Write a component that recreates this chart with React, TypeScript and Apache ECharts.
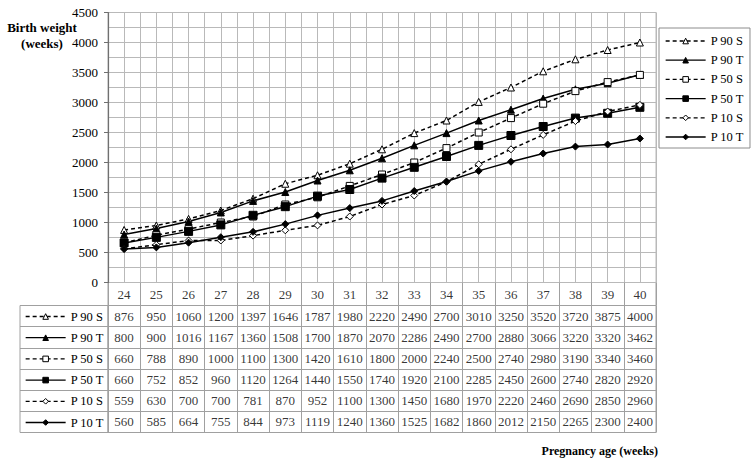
import React, { useEffect, useRef } from "react";
import * as echarts from "echarts";

const weeks = [24, 25, 26, 27, 28, 29, 30, 31, 32, 33, 34, 35, 36, 37, 38, 39, 40];
const seriesNames = ["P 90 S", "P 90 T", "P 50 S", "P 50 T", "P 10 S", "P 10 T"];
const p90S = [876, 950, 1060, 1200, 1397, 1646, 1787, 1980, 2220, 2490, 2700, 3010, 3250, 3520, 3720, 3875, 4000];
const p90T = [800, 900, 1016, 1167, 1360, 1508, 1700, 1870, 2070, 2286, 2490, 2700, 2880, 3066, 3220, 3320, 3462];
const p50S = [660, 788, 890, 1000, 1100, 1300, 1420, 1610, 1800, 2000, 2240, 2500, 2740, 2980, 3190, 3340, 3460];
const p50T = [660, 752, 852, 960, 1120, 1264, 1440, 1550, 1740, 1920, 2100, 2285, 2450, 2600, 2740, 2820, 2920];
const p10S = [559, 630, 700, 700, 781, 870, 952, 1100, 1300, 1450, 1680, 1970, 2220, 2460, 2690, 2850, 2960];
const p10T = [560, 585, 664, 755, 844, 973, 1119, 1240, 1360, 1525, 1682, 1860, 2012, 2150, 2265, 2300, 2400];
const allValues = [p90S, p90T, p50S, p50T, p10S, p10T];
const yTitleLines = ["Birth weight", "(weeks)"];
const xTitle = "Pregnancy age (weeks)";

const FONT = '"Liberation Serif", "Times New Roman", serif';
const GRID_COLOR = "#b9b9b9";
const TABLE_COLOR = "#a0a0a0";

const markers = [
  { dashed: true, symbol: "triangle", hollow: true, size: 7 },
  { dashed: false, symbol: "triangle", hollow: false, size: 7 },
  { dashed: true, symbol: "rect", hollow: true, size: 7 },
  { dashed: false, symbol: "rect", hollow: false, size: 8 },
  { dashed: true, symbol: "diamond", hollow: true, size: 7 },
  { dashed: false, symbol: "diamond", hollow: false, size: 7 },
];

export default function App() {
  const ref = useRef<HTMLDivElement>(null);

  useEffect(() => {
    if (!ref.current) return;
    const chart = echarts.init(ref.current, null, { renderer: "svg" });

    const lineSeries = seriesNames.map((name, k) => {
      const m = markers[k];
      return {
        type: "line",
        name,
        xAxisIndex: 0,
        yAxisIndex: 0,
        data: weeks.map((w, i) => [w, allValues[k][i]]),
        symbol: m.symbol,
        symbolSize: m.size,
        showAllSymbol: true,
        lineStyle: { color: "#000", width: 1.5, type: m.dashed ? [4, 3] : "solid" },
        itemStyle: { color: m.hollow ? "#fff" : "#000", borderColor: "#000", borderWidth: 1 },
        z: 3,
      };
    });

    const cellLabel = {
      show: true,
      position: "inside",
      color: "#000",
      fontFamily: FONT,
      fontSize: 13,
      fontWeight: "normal",
      formatter: (p: any) => String(p.value[2]),
    };

    const legendCommon = {
      orient: "vertical",
      data: seriesNames,
      selectedMode: false,
      itemWidth: 40,
      itemHeight: 7,
      itemStyle: { borderWidth: 1 },
      lineStyle: { width: 1.3 },
      textStyle: { fontFamily: FONT, fontSize: 12.5, fontWeight: "normal", color: "#000", lineHeight: 14 },
    };

    chart.setOption({
      animation: false,
      backgroundColor: "#fff",
      textStyle: { fontFamily: FONT, fontWeight: "normal" },
      grid: [
        { left: 108, right: 100, top: 12.5, height: 270, show: true, borderColor: GRID_COLOR, borderWidth: 1, containLabel: false },
        { left: 108, right: 100, top: 282.5, height: 23, show: true, borderColor: TABLE_COLOR, borderWidth: 1 },
        { left: 108, right: 100, top: 305.5, height: 127, show: true, borderColor: TABLE_COLOR, borderWidth: 1 },
        { left: 20, width: 88, top: 305.5, height: 127, show: true, borderColor: TABLE_COLOR, borderWidth: 1 },
      ],
      xAxis: [
        {
          type: "value",
          gridIndex: 0,
          min: 23.5,
          max: 40.5,
          interval: 0.5,
          axisLine: { show: false },
          axisTick: { show: false },
          axisLabel: { show: false },
          splitLine: { show: true, lineStyle: { color: GRID_COLOR, width: 1 } },
        },
        {
          type: "category",
          gridIndex: 1,
          data: weeks.map(String),
          axisLine: { show: false },
          axisTick: { show: false },
          axisLabel: { show: false },
          splitLine: { show: true, interval: 0, lineStyle: { color: TABLE_COLOR } },
        },
        {
          type: "category",
          gridIndex: 2,
          data: weeks.map(String),
          axisLine: { show: false },
          axisTick: { show: false },
          axisLabel: { show: false },
          splitLine: { show: true, interval: 0, lineStyle: { color: TABLE_COLOR } },
        },
        {
          type: "category",
          gridIndex: 3,
          data: ["key"],
          axisLine: { show: false },
          axisTick: { show: false },
          axisLabel: { show: false },
          splitLine: { show: false },
        },
      ],
      yAxis: [
        {
          type: "value",
          gridIndex: 0,
          min: 0,
          max: 4500,
          interval: 500,
          axisLine: { show: true, lineStyle: { color: "#707070", width: 1.2 } },
          axisTick: { show: true, length: 4, lineStyle: { color: "#707070" } },
          axisLabel: { color: "#000", fontFamily: FONT, fontSize: 13, margin: 10, formatter: (v: number) => String(v) },
          splitLine: { show: true, lineStyle: { color: GRID_COLOR, width: 1 } },
          minorTick: { show: false, splitNumber: 2 },
          minorSplitLine: { show: true, lineStyle: { color: GRID_COLOR, width: 1 } },
        },
        {
          type: "category",
          gridIndex: 1,
          data: ["header"],
          axisLine: { show: false },
          axisTick: { show: false },
          axisLabel: { show: false },
          splitLine: { show: false },
        },
        {
          type: "category",
          gridIndex: 2,
          data: seriesNames,
          inverse: true,
          axisLine: { show: false },
          axisTick: { show: false },
          axisLabel: { show: false },
          splitLine: { show: true, interval: 0, lineStyle: { color: TABLE_COLOR } },
        },
        {
          type: "category",
          gridIndex: 3,
          data: seriesNames,
          inverse: true,
          axisLine: { show: false },
          axisTick: { show: false },
          axisLabel: { show: false },
          splitLine: { show: true, interval: 0, lineStyle: { color: TABLE_COLOR } },
        },
      ],
      legend: [
        {
          ...legendCommon,
          left: 659,
          top: 28,
          padding: [6, 6, 4, 6],
          itemGap: 5.2,
          borderColor: "#8c8c8c",
          borderWidth: 1,
        },
        {
          ...legendCommon,
          left: 25,
          top: 309.5,
          padding: 0,
          itemGap: 7.2,
        },
      ],
      graphic: [
        {
          type: "text",
          x: 42,
          y: 27,
          style: {
            text: yTitleLines[0],
            font: "bold 13px " + FONT,
            fill: "#000",
            textAlign: "center",
            textVerticalAlign: "middle",
            align: "center",
            verticalAlign: "middle",
          },
        },
        {
          type: "text",
          x: 42,
          y: 43,
          style: {
            text: yTitleLines[1],
            font: "bold 13px " + FONT,
            fill: "#000",
            textAlign: "center",
            textVerticalAlign: "middle",
            align: "center",
            verticalAlign: "middle",
          },
        },
        {
          type: "text",
          x: 658,
          y: 451,
          style: {
            text: xTitle,
            font: "bold 12px " + FONT,
            fill: "#000",
            textAlign: "right",
            textVerticalAlign: "middle",
            align: "right",
            verticalAlign: "middle",
          },
        },
      ],
      series: [
        ...lineSeries,
        {
          type: "scatter",
          name: "header",
          xAxisIndex: 1,
          yAxisIndex: 1,
          silent: true,
          symbolSize: 1,
          itemStyle: { color: "transparent" },
          data: weeks.map((w) => [String(w), "header", w]),
          label: cellLabel,
        },
        {
          type: "scatter",
          name: "cells",
          xAxisIndex: 2,
          yAxisIndex: 2,
          silent: true,
          symbolSize: 1,
          itemStyle: { color: "transparent" },
          data: seriesNames.flatMap((n, r) => allValues[r].map((v, i) => [String(weeks[i]), n, v])),
          label: cellLabel,
        },
      ],
    });

    return () => chart.dispose();
  }, []);

  return <div ref={ref} style={{ width: 756, height: 464, position: "absolute", left: 0, top: 0 }} />;
}
